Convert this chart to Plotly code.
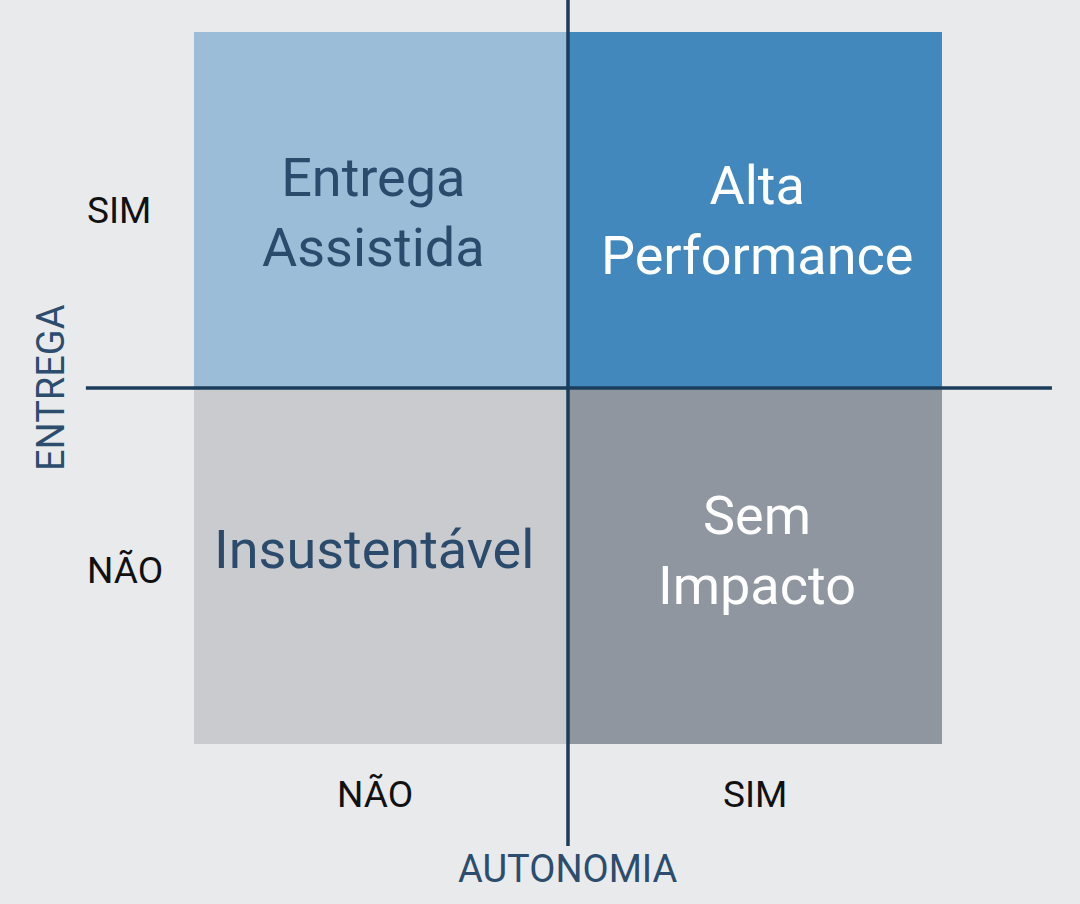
import plotly.graph_objects as go

# ---- data ----
autonomia = ["NÃO", "SIM"]          # x categories (left -> right)
entrega = ["NÃO", "SIM"]            # y categories (bottom -> top)
quadrant_labels = [                  # rows = entrega (NÃO, SIM), cols = autonomia (NÃO, SIM)
    ["Insustentável", "Sem<br>Impacto"],
    ["Entrega<br>Assistida", "Alta<br>Performance"],
]
quadrant_index = [[0, 1], [2, 3]]
quadrant_colors = ["#c9cbce", "#8f96a0", "#9bbdd8", "#4388bd"]
label_colors = [["#2b4b6c", "#ffffff"], ["#2b4b6c", "#ffffff"]]
label_yshift = [[17, 16], [-2, -10]]
label_xshift = [[-7, 2], [-7, 2]]

xs = list(range(len(autonomia)))
ys = list(range(len(entrega)))

n = len(quadrant_colors)
colorscale = []
for i, c in enumerate(quadrant_colors):
    colorscale.append([i / n, c])
    colorscale.append([(i + 1) / n, c])

fig = go.Figure()
fig.add_trace(go.Heatmap(
    x=xs, y=ys, z=quadrant_index,
    colorscale=colorscale, zmin=-0.5, zmax=n - 0.5,
    showscale=False, hoverinfo="skip", xgap=0, ygap=0,
))

line_color = "#1b3d5c"
# axis cross lines
fig.add_shape(type="line", x0=0.5, x1=0.5, y0=-0.7865, y1=1.6,
              line=dict(color=line_color, width=3.5), layer="above")
fig.add_shape(type="line", x0=-0.789, x1=1.794, y0=0.5, y1=0.5,
              line=dict(color=line_color, width=3.5), layer="above")

font_family = "Roboto"
# quadrant labels
for r, yv in enumerate(ys):
    for c, xv in enumerate(xs):
        fig.add_annotation(x=xv, y=yv, text=quadrant_labels[r][c], showarrow=False,
                           yshift=label_yshift[r][c], xshift=label_xshift[r][c],
                           font=dict(family=font_family, size=54, color=label_colors[r][c]))

# x tick labels
for xv, t in zip(xs, autonomia):
    fig.add_annotation(x=xv, y=-0.5, yref="y", text=t, showarrow=False, yshift=-50,
                       xshift=(-6 if t == "NÃO" else 0),
                       font=dict(family=font_family, size=37, color="#111111"))
# y tick labels (left aligned)
for yv, t in zip(ys, entrega):
    fig.add_annotation(x=0, xref="paper", y=yv, text=t, showarrow=False, xanchor="left",
                       xshift=85, yshift=(0 if t == "SIM" else -4),
                       font=dict(family=font_family, size=37, color="#111111"))

# axis titles
fig.add_annotation(x=0.5, y=0, xref="x", yref="paper", text="AUTONOMIA", showarrow=False,
                   yanchor="bottom", yshift=11,
                   font=dict(family=font_family, size=38, color="#2c4d6e"))
fig.add_annotation(x=0, xref="paper", y=0.5, yref="y", text="ENTREGA", showarrow=False,
                   textangle=-90, xanchor="left", xshift=27,
                   font=dict(family=font_family, size=38, color="#2c4d6e"))

fig.update_xaxes(range=[-1.0187, 1.869], visible=False, fixedrange=True)
fig.update_yaxes(range=[-0.9494, 1.5899], visible=False, fixedrange=True)
fig.update_layout(
    width=1080, height=904,
    margin=dict(l=0, r=0, t=0, b=0),
    paper_bgcolor="#e9eaeb", plot_bgcolor="#e9eaeb",
    showlegend=False,
)
fig.write_html("out.html", config={"displayModeBar": False},
               post_script="document.body.style.margin='0';document.body.style.overflow='hidden';")
